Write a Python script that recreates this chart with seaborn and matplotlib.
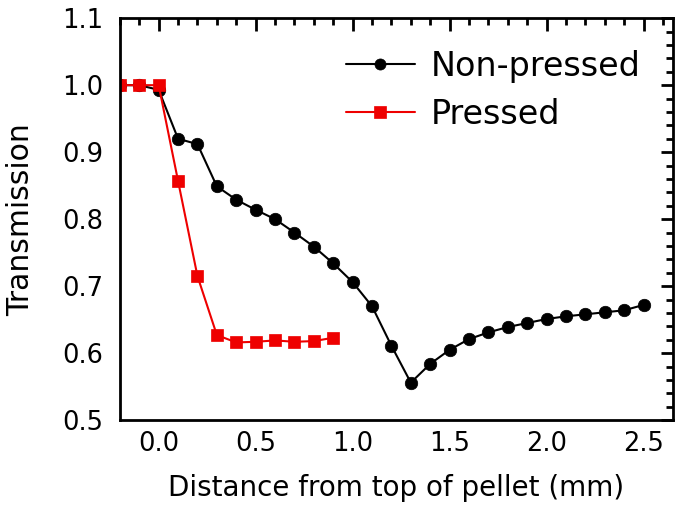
import numpy as np
import pandas as pd
import matplotlib
matplotlib.use("Agg")
import matplotlib.pyplot as plt
from matplotlib.ticker import MultipleLocator
import seaborn as sns

# Data
x_non = [-0.2, -0.1, 0.0, 0.1, 0.2, 0.3, 0.4, 0.5, 0.6, 0.7, 0.8, 0.9, 1.0, 1.1,
         1.2, 1.3, 1.4, 1.5, 1.6, 1.7, 1.8, 1.9, 2.0, 2.1, 2.2, 2.3, 2.4, 2.5]
y_non = [1.000, 1.000, 0.993, 0.920, 0.912, 0.849, 0.829, 0.814, 0.800, 0.780,
         0.759, 0.734, 0.706, 0.670, 0.611, 0.556, 0.584, 0.605, 0.621, 0.631,
         0.639, 0.645, 0.651, 0.655, 0.658, 0.661, 0.664, 0.672]
x_pr = [-0.2, -0.1, 0.0, 0.1, 0.2, 0.3, 0.4, 0.5, 0.6, 0.7, 0.8, 0.9]
y_pr = [1.000, 1.000, 1.000, 0.857, 0.715, 0.627, 0.616, 0.617, 0.619, 0.617, 0.618, 0.623]

labels = ["Non-pressed", "Pressed"]
x_ticks = [0.0, 0.5, 1.0, 1.5, 2.0, 2.5]
y_ticks = [0.5, 0.6, 0.7, 0.8, 0.9, 1.0, 1.1]

df = pd.concat([
    pd.DataFrame({"x": x_non, "y": y_non, "s": labels[0]}),
    pd.DataFrame({"x": x_pr, "y": y_pr, "s": labels[1]}),
])

sns.set_style("white")
plt.rcParams['font.family'] = ['DejaVu Sans']
plt.rcParams['text.color'] = 'black'
plt.rcParams['axes.labelcolor'] = 'black'
plt.rcParams['xtick.color'] = 'black'
plt.rcParams['ytick.color'] = 'black'

fig = plt.figure(figsize=(6.85, 5.05), dpi=100)
ax = fig.add_axes([0.175, 0.168, 0.807, 0.796])

sns.lineplot(data=df, x="x", y="y", hue="s", style="s",
             palette={labels[0]: "black", labels[1]: "#ee0000"},
             markers={labels[0]: "o", labels[1]: "s"},
             dashes=False, markersize=9, linewidth=1.5,
             markeredgewidth=0.5, ax=ax, sort=False)
for ln in ax.lines:
    ln.set_markeredgecolor(ln.get_color())

ax.set_xlim(-0.2, 2.65)
ax.set_ylim(0.5, 1.1)
ax.set_xticks(x_ticks)
ax.set_yticks(y_ticks)
ax.xaxis.set_minor_locator(MultipleLocator(0.1))
ax.yaxis.set_minor_locator(MultipleLocator(0.02))
ax.tick_params(which="both", direction="in", top=True, right=True, width=2, colors="black")
ax.tick_params(which="major", length=9, labelsize=18.5)
ax.tick_params(axis="y", which="major", pad=12)
ax.tick_params(axis="x", which="major", pad=8)
ax.tick_params(which="minor", length=5)
for sp in ax.spines.values():
    sp.set_linewidth(2)
    sp.set_color("black")

ax.set_xlabel("Distance from top of pellet (mm)", fontsize=20)
ax.set_ylabel("Transmission", fontsize=21.5)
ax.xaxis.set_label_coords(0.5, -0.134)
ax.yaxis.set_label_coords(-0.153, 0.5)

leg = ax.legend(frameon=False, fontsize=24, loc="upper right",
                handlelength=2.05, handletextpad=0.5, borderaxespad=0.0,
                labelspacing=0.45, bbox_to_anchor=(0.967, 0.955))
for h in leg.legend_handles:
    h.set_markersize(8)
    h.set_markeredgecolor(h.get_color())

fig.savefig("out.png", dpi=100)
